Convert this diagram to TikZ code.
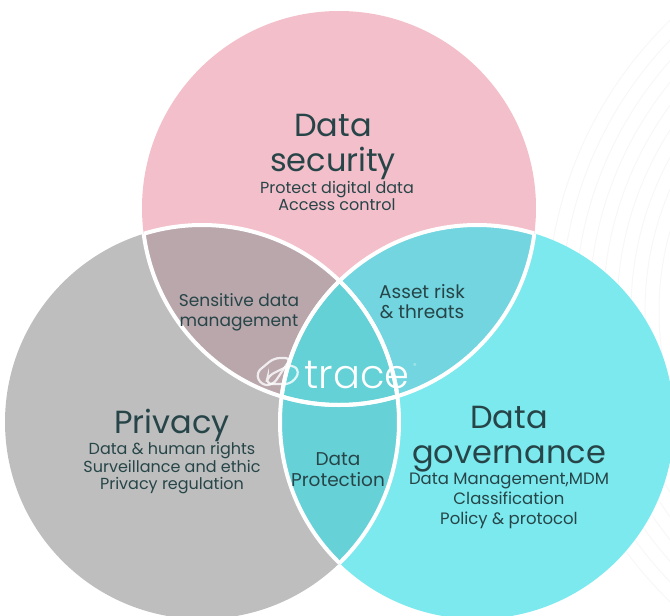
\documentclass[tikz,border=0pt]{standalone}
\usepackage{fontspec}
\usetikzlibrary{positioning}
\setmainfont{Poppins}
\newfontfamily\logofont{Poppins Light}
\definecolor{secpink}{HTML}{F3BFCA}
\definecolor{privgrey}{HTML}{BEBEBE}
\definecolor{govcyan}{HTML}{7BE9EE}
\definecolor{pinkgrey}{HTML}{B9A7AC}
\definecolor{pinkcyan}{HTML}{72D5DF}
\definecolor{greycyan}{HTML}{66D2D8}
\definecolor{midcyan}{HTML}{64D1D6}
\definecolor{inktext}{HTML}{274548}
\begin{document}
\begin{tikzpicture}[x=1pt,y=-1pt]
	\tikzstyle{heading}=[text=inktext,align=center,inner sep=0pt,font=\fontsize{32}{35}\selectfont]
	\tikzstyle{detail}=[text=inktext,align=center,inner sep=0pt,font=\fontsize{16}{17.5}\selectfont]
	\tikzstyle{overlap}=[text=inktext,align=center,inner sep=0pt,font=\fontsize{17}{20}\selectfont]
	\tikzstyle{ring}=[draw=white,line width=4pt]

	\useasboundingbox (0,0) rectangle (670,616);

	\coordinate (sec) at (339,208);
	\coordinate (priv) at (202,422);
	\coordinate (gov) at (477,422);

	% faint arcs
	\foreach \r in {293,307,...,405}
		\draw[black!3,line width=1pt] (952,311) circle (\r);

	\fill[secpink] (sec) circle (197);
	\fill[privgrey] (priv) circle (197);
	\fill[govcyan] (gov) circle (197);

	\begin{scope}
		\clip (sec) circle (197);
		\fill[pinkgrey] (priv) circle (197);
	\end{scope}
	\begin{scope}
		\clip (sec) circle (197);
		\fill[pinkcyan] (gov) circle (197);
	\end{scope}
	\begin{scope}
		\clip (priv) circle (197);
		\fill[greycyan] (gov) circle (197);
	\end{scope}
	\begin{scope}
		\clip (sec) circle (197);
		\clip (priv) circle (197);
		\fill[midcyan] (gov) circle (197);
	\end{scope}

	% white edges, only where circles overlap
	\begin{scope}
		\clip (sec) circle (197);
		\draw[ring] (priv) circle (197);
		\draw[ring] (gov) circle (197);
	\end{scope}
	\begin{scope}
		\clip (priv) circle (197);
		\draw[ring] (sec) circle (197);
		\draw[ring] (gov) circle (197);
	\end{scope}
	\begin{scope}
		\clip (gov) circle (197);
		\draw[ring] (sec) circle (197);
		\draw[ring] (priv) circle (197);
	\end{scope}

	\node[heading] (sectitle) at (333,147) {Data\\security};
	\node[detail,below=1pt of sectitle.south,anchor=north,xshift=4pt] (sectext) {Protect digital data\\Access control};
	\node[heading] (privtitle) at (172,425) {Privacy};
	\node[detail,below=1pt of privtitle.south,anchor=north] (privtext) {Data \& human rights\\Surveillance and ethic\\Privacy regulation};
	\node[heading] (govtitle) at (509,439) {Data\\governance};
	\node[detail,font=\fontsize{16.5}{20}\selectfont,below=1pt of govtitle.south,anchor=north] (govtext) {Data Management,MDM\\Classification\\Policy \& protocol};

	\node[overlap] (sensitive) at (239,312) {Sensitive data\\management};
	\node[overlap,font=\fontsize{18.5}{20}\selectfont] (asset) at (422,302) {Asset risk\\\& threats};
	\node[overlap,font=\fontsize{18.5}{21}\selectfont] (protection) at (338,470) {Data\\Protection};

	% logo
	\node[text=white,font=\logofont\fontsize{40}{40}\selectfont] (trace) at (357,375) {trace};
	\node[text=white,opacity=.6,font=\fontsize{7}{7}\selectfont] (reg) at (415,366) {®};
	\draw[white,opacity=.8,line width=2.2pt,rounded corners=6pt]
		(256,373) -- (274,358) -- (291,358) -- (273,385) -- (261,385) -- cycle;
	\draw[white,opacity=.8,line width=2.2pt,rounded corners=6pt]
		(268,376) -- (292,364) -- (300,372) -- (291,384) -- (266,384) -- cycle;
\end{tikzpicture}
\end{document}
